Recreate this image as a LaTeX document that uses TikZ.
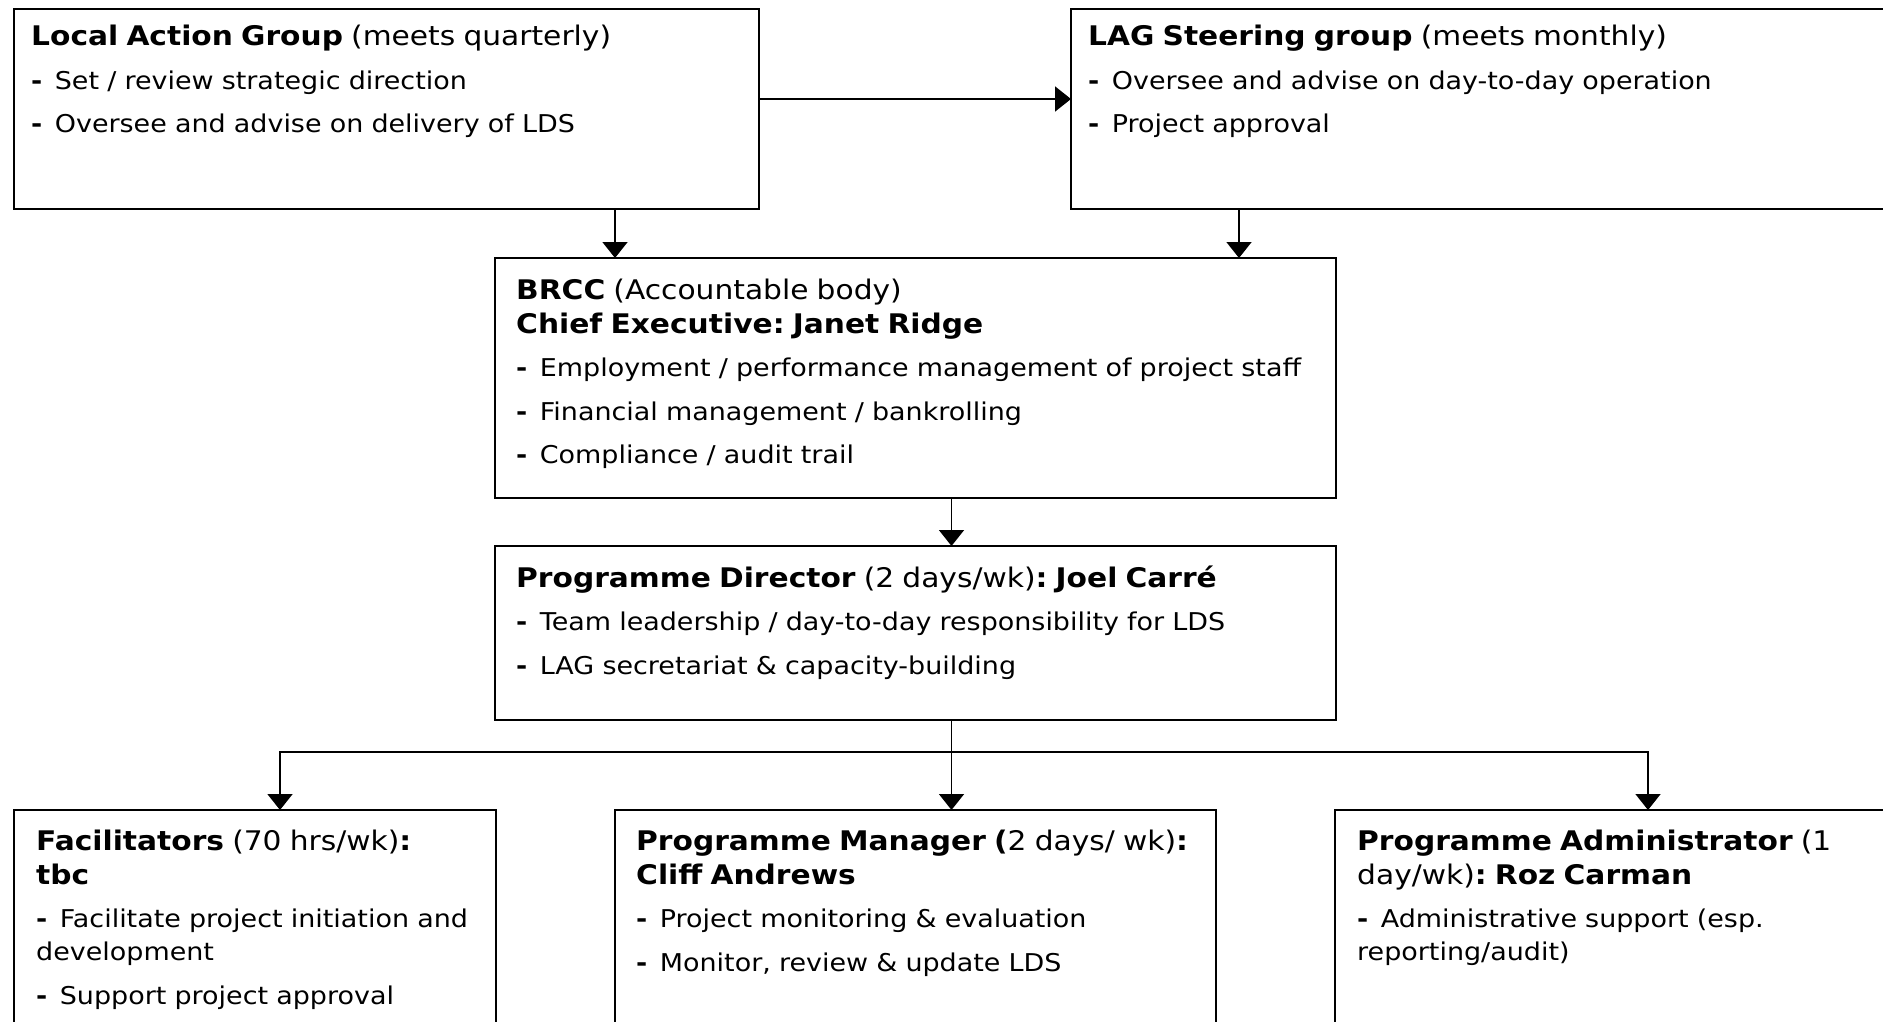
\documentclass[tikz,border=0pt]{standalone}
\usepackage{fontspec}
\setmainfont{DejaVu Sans}[FakeStretch=1.1]
\usetikzlibrary{positioning,arrows.meta}
\newcommand{\headfont}{\fontsize{27pt}{34pt}\selectfont}
\newcommand{\itemfont}{\fontsize{24.5pt}{33pt}\selectfont}
\newcommand{\bul}{\textbf{-}\hspace{12.5pt}}
\frenchspacing
\begin{document}
\begin{tikzpicture}[
  x=1pt, y=-1pt,
  box/.style={rectangle, draw, line width=1.7pt, inner sep=0pt, outer sep=0pt},
  txt/.style={anchor=base west, inner sep=0pt, text width=1000pt, align=left, font=\itemfont,
    execute at begin node={\setlength{\parskip}{10.5pt}}},
  arr/.style={-{Triangle[length=16pt,width=25pt]}, line width=1.7pt},
  link/.style={line width=1.7pt}
]
\useasboundingbox (0,0) rectangle (1883,1022);
\clip (0,0) rectangle (1883,1022);

\node[box, anchor=north west, minimum width=745pt, minimum height=200pt] (lag) at (14,9) {};
\node[box, right=312pt of lag, minimum width=830pt, minimum height=200pt] (steer) {};
\node[box, anchor=north west, minimum width=841pt, minimum height=240pt] (brcc) at (495,258) {};
\node[box, below=48pt of brcc, minimum width=841pt, minimum height=174pt] (pd) {};
\node[box, below=90pt of pd, minimum width=601pt, minimum height=230pt] (mgr) {};
\node[box, left=119pt of mgr, minimum width=482pt, minimum height=230pt] (fac) {};
\node[box, right=119pt of mgr, minimum width=570pt, minimum height=230pt] (adm) {};

\node[txt] (lagtxt) at ([shift={(17pt,-37pt)}]lag.north west) {%
  {\headfont\textbf{Local Action Group} (meets quarterly)\par}
  {\itemfont\bul Set / review strategic direction\par}
  {\itemfont\bul Oversee and advise on delivery of LDS\par}};
\node[txt] (steertxt) at ([shift={(17pt,-37pt)}]steer.north west) {%
  {\headfont\textbf{LAG Steering group} (meets monthly)\par}
  {\itemfont\bul Oversee and advise on day-to-day operation\par}
  {\itemfont\bul Project approval\par}};
\node[txt] (brcctxt) at ([shift={(21pt,-41pt)}]brcc.north west) {%
  {\headfont\textbf{BRCC} (Accountable body)\newline\textbf{Chief Executive: Janet Ridge}\par}
  {\itemfont\bul Employment / performance management of project staff\par}
  {\itemfont\bul Financial management / bankrolling\par}
  {\itemfont\bul Compliance / audit trail\par}};
\node[txt] (pdtxt) at ([shift={(21pt,-41pt)}]pd.north west) {%
  {\headfont\textbf{Programme Director} (2 days/wk)\textbf{: Joel Carré}\par}
  {\itemfont\bul Team leadership / day-to-day responsibility for LDS\par}
  {\itemfont\bul LAG secretariat \& capacity-building\par}};
\node[txt] (factxt) at ([shift={(22pt,-40pt)}]fac.north west) {%
  {\headfont\textbf{Facilitators} (70 hrs/wk)\textbf{:}\newline\textbf{tbc}\par}
  {\itemfont\bul Facilitate project initiation and\newline development\par}
  {\itemfont\bul Support project approval\par}};
\node[txt] (mgrtxt) at ([shift={(21pt,-40pt)}]mgr.north west) {%
  {\headfont\textbf{Programme Manager (}2 days/ wk)\textbf{:}\newline\textbf{Cliff Andrews}\par}
  {\itemfont\bul Project monitoring \& evaluation\par}
  {\itemfont\bul Monitor, review \& update LDS\par}};
\node[txt] (admtxt) at ([shift={(22pt,-40pt)}]adm.north west) {%
  {\headfont\textbf{Programme Administrator} (1\newline day/wk)\textbf{: Roz Carman}\par}
  {\itemfont\bul Administrative support (esp.\newline reporting/audit)\par}};

\coordinate (lagout) at ([yshift=10pt]lag.east);
\draw[arr] (lagout) -- (lagout -| steer.west);
\coordinate (lagdown) at ([xshift=228.5pt]lag.south);
\draw[arr] (lagdown) -- (lagdown |- brcc.north);
\coordinate (steerdown) at ([xshift=168pt]steer.south west);
\draw[arr] (steerdown) -- (steerdown |- brcc.north);
\coordinate (brccdown) at ([xshift=36pt]brcc.south);
\draw[arr] (brccdown) -- (brccdown |- pd.north);
\coordinate (pddown) at ([xshift=36pt]pd.south);
\coordinate (fork) at ([yshift=-32pt]pddown);
\draw[link] (pddown) -- (fork);
\draw[arr] (fork) -- (fork |- mgr.north);
\draw[arr] (fork) -| ([xshift=266pt]fac.north west);
\draw[arr] (fork) -| ([xshift=313pt]adm.north west);
\end{tikzpicture}
\end{document}
